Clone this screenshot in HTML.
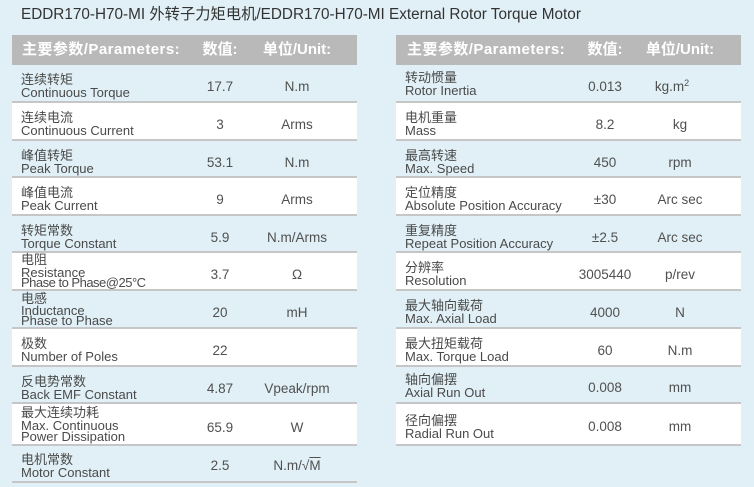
<!DOCTYPE html>
<html><head><meta charset="utf-8">
<style>
*{margin:0;padding:0;box-sizing:border-box;}
html,body{width:754px;height:487px;}
body{background:#e0f0f6;position:relative;overflow:hidden;font-family:"Liberation Sans","Noto Sans CJK SC",sans-serif;color:#4a4a4a;}
.title{position:absolute;left:21px;top:7px;font-size:15.3px;line-height:15px;color:#333;white-space:nowrap;}
.tbl{position:absolute;top:35px;width:345px;}
.hdr{position:relative;height:30px;background:#b9b9b9;color:#fff;font-weight:bold;font-size:15px;line-height:30px;white-space:nowrap;}
.hdr span{position:absolute;top:0;}
.hdr .p{letter-spacing:0.45px;}
.hdr .c{width:120px;margin-left:-60px;text-align:center;}
.r{position:relative;border-bottom:2px solid #c6c6c6;white-space:nowrap;}
.w{background:#fff;}
.l{position:absolute;left:9px;font-size:13px;line-height:13px;}
.l3{position:absolute;left:9px;font-size:13px;line-height:11px;}
.v{position:absolute;width:110px;margin-left:-55px;text-align:center;font-size:13.5px;line-height:14px;top:15px;color:#505050;}
.vl{left:208px;}
.ul{left:285px;}
sup{font-size:9px;line-height:0;vertical-align:5px;}
</style></head><body>
<div class="title">EDDR170-H70-MI 外转子力矩电机/EDDR170-H70-MI External Rotor Torque Motor</div>

<div class="tbl" style="left:12px;">
  <div class="hdr"><span class="p" style="left:10px;">主要参数/Parameters:</span><span class="c" style="left:208px;">数值:</span><span class="c" style="left:285px;">单位/Unit:</span></div>
  <div class="r" style="height:38px;"><div class="l" style="top:8px;">连续转矩</div><div class="l" style="top:21px;">Continuous Torque</div><div class="v vl">17.7</div><div class="v ul">N.m</div></div>
  <div class="r w" style="height:38px;"><div class="l" style="top:8px;">连续电流</div><div class="l" style="top:21px;">Continuous Current</div><div class="v vl">3</div><div class="v ul">Arms</div></div>
  <div class="r" style="height:37px;"><div class="l" style="top:8px;">峰值转矩</div><div class="l" style="top:21px;">Peak Torque</div><div class="v vl">53.1</div><div class="v ul">N.m</div></div>
  <div class="r w" style="height:38px;"><div class="l" style="top:8px;">峰值电流</div><div class="l" style="top:21px;">Peak Current</div><div class="v vl">9</div><div class="v ul">Arms</div></div>
  <div class="r" style="height:37px;"><div class="l" style="top:8px;">转矩常数</div><div class="l" style="top:21px;">Torque Constant</div><div class="v vl">5.9</div><div class="v ul">N.m/Arms</div></div>
  <div class="r w" style="height:38px;"><div class="l3" style="top:1px;">电阻</div><div class="l3" style="top:14px;">Resistance</div><div class="l3" style="top:24px;letter-spacing:-0.5px;">Phase to Phase@25°C</div><div class="v vl">3.7</div><div class="v ul">Ω</div></div>
  <div class="r" style="height:38px;"><div class="l3" style="top:2px;">电感</div><div class="l3" style="top:14px;">Inductance</div><div class="l3" style="top:24px;">Phase to Phase</div><div class="v vl">20</div><div class="v ul">mH</div></div>
  <div class="r w" style="height:38px;"><div class="l" style="top:8px;">极数</div><div class="l" style="top:21px;">Number of Poles</div><div class="v vl">22</div></div>
  <div class="r" style="height:37px;"><div class="l" style="top:8px;">反电势常数</div><div class="l" style="top:21px;">Back EMF Constant</div><div class="v vl">4.87</div><div class="v ul">Vpeak/rpm</div></div>
  <div class="r w" style="height:42px;"><div class="l3" style="top:3px;">最大连续功耗</div><div class="l3" style="top:16px;">Max. Continuous</div><div class="l3" style="top:27px;">Power Dissipation</div><div class="v vl" style="top:17px;">65.9</div><div class="v ul" style="top:17px;">W</div></div>
  <div class="r" style="height:37px;"><div class="l" style="top:7px;">电机常数</div><div class="l" style="top:20px;">Motor Constant</div><div class="v vl" style="top:13px;">2.5</div><div class="v ul" style="top:13px;">N.m/√<span style="text-decoration:overline;">M</span></div></div>
</div>

<div class="tbl" style="left:396px;">
  <div class="hdr"><span class="p" style="left:11px;">主要参数/Parameters:</span><span class="c" style="left:209px;">数值:</span><span class="c" style="left:284px;">单位/Unit:</span></div>
  <div class="r" style="height:38px;"><div class="l" style="top:6px;">转动惯量</div><div class="l" style="top:19px;">Rotor Inertia</div><div class="v vl" style="left:209px;">0.013</div><div class="v ul" style="left:276px;">kg.m<sup>2</sup></div></div>
  <div class="r w" style="height:38px;"><div class="l" style="top:8px;">电机重量</div><div class="l" style="top:21px;">Mass</div><div class="v vl" style="left:209px;">8.2</div><div class="v ul" style="left:284px;">kg</div></div>
  <div class="r" style="height:37px;"><div class="l" style="top:8px;">最高转速</div><div class="l" style="top:21px;">Max. Speed</div><div class="v vl" style="left:209px;">450</div><div class="v ul" style="left:284px;">rpm</div></div>
  <div class="r w" style="height:38px;"><div class="l" style="top:8px;">定位精度</div><div class="l" style="top:21px;">Absolute Position Accuracy</div><div class="v vl" style="left:209px;">±30</div><div class="v ul" style="left:284px;">Arc sec</div></div>
  <div class="r" style="height:37px;"><div class="l" style="top:8px;">重复精度</div><div class="l" style="top:21px;">Repeat Position Accuracy</div><div class="v vl" style="left:209px;">±2.5</div><div class="v ul" style="left:284px;">Arc sec</div></div>
  <div class="r w" style="height:38px;"><div class="l" style="top:8px;">分辨率</div><div class="l" style="top:21px;">Resolution</div><div class="v vl" style="left:209px;">3005440</div><div class="v ul" style="left:284px;">p/rev</div></div>
  <div class="r" style="height:38px;"><div class="l" style="top:8px;">最大轴向载荷</div><div class="l" style="top:21px;">Max. Axial Load</div><div class="v vl" style="left:209px;">4000</div><div class="v ul" style="left:284px;">N</div></div>
  <div class="r w" style="height:38px;"><div class="l" style="top:8px;">最大扭矩载荷</div><div class="l" style="top:21px;">Max. Torque Load</div><div class="v vl" style="left:209px;">60</div><div class="v ul" style="left:284px;">N.m</div></div>
  <div class="r" style="height:37px;"><div class="l" style="top:6px;">轴向偏摆</div><div class="l" style="top:19px;">Axial Run Out</div><div class="v vl" style="left:209px;top:14px;">0.008</div><div class="v ul" style="left:284px;top:14px;">mm</div></div>
  <div class="r w" style="height:42px;"><div class="l" style="top:10px;">径向偏摆</div><div class="l" style="top:23px;">Radial Run Out</div><div class="v vl" style="left:209px;top:16px;">0.008</div><div class="v ul" style="left:284px;top:16px;">mm</div></div>
</div>
</body></html>
